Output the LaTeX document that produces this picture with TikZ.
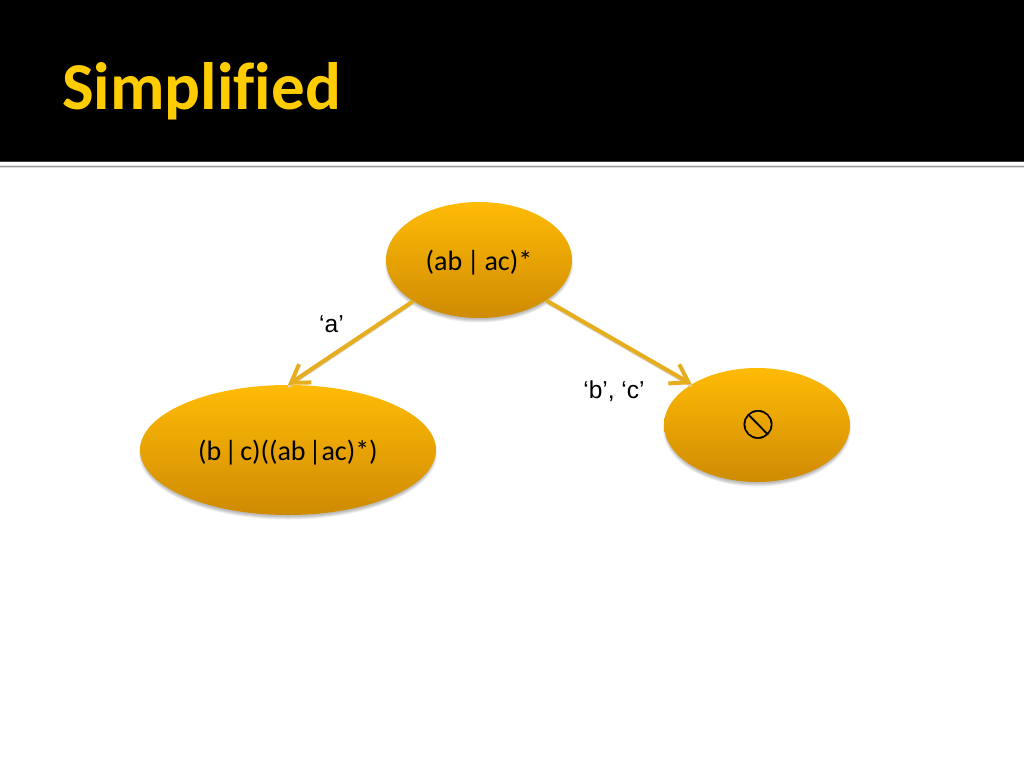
\documentclass[tikz,border=0pt]{standalone}
\usepackage{fontspec}
\setmainfont{Carlito}
\newfontfamily\labelfont{Liberation Sans}
\newfontfamily\symfont[FakeBold=1.6]{Noto Emoji}
\usetikzlibrary{arrows.meta,shapes.geometric}
\definecolor{titlegold}{HTML}{FFCC00}
\definecolor{nodetop}{HTML}{FFBB05}
\definecolor{nodebot}{HTML}{CF8B03}
\definecolor{linegold}{HTML}{E6AE1E}
\definecolor{lineshadow}{HTML}{D8D0B8}
\tikzset{
  x=1pt,y=-1pt,
  statenode/.style={ellipse,inner sep=0pt,top color=nodetop,bottom color=nodebot,draw=none,
    font=\fontsize{28}{32}\selectfont,text=black,text depth=0pt},
  halo/.style={ellipse,inner sep=0pt,fill=black,fill opacity=0.07,draw=none},
  edgelabel/.style={font=\labelfont\fontsize{24.5}{28}\selectfont,text=black,inner sep=0pt},
  link/.style={draw=linegold,line width=4pt,-{Straight Barb[length=17pt,width=22pt,line width=4pt]}},
  linkshade/.style={draw=lineshadow,line width=2.5pt},
}
\begin{document}
\begin{tikzpicture}
\useasboundingbox (0,0) rectangle (1024,768);
\fill[white] (0,0) rectangle (1024,768);
\fill[black] (0,0) rectangle (1024,160.5);
\fill[black!75] (0,160.5) rectangle (1024,161.5);
\fill[black!10] (0,165) rectangle (1024,165.8);
\fill[black!40] (0,165.8) rectangle (1024,167.2);
\fill[black!12] (0,167.2) rectangle (1024,168.2);
\node[anchor=base west,inner sep=0pt,text=titlegold,font=\bfseries\fontsize{67}{72}\selectfont] (title) at (62,109) {Simplif\kern0pt ied};
% soft shadows, below the ellipses only
\foreach \g/\e in {0/-4,1/-2,2/0,3/2}{
  \node[halo,minimum width=186pt+\e pt,minimum height=116pt+\e pt] (hA\g) at (479,263.5) {};
  \node[halo,minimum width=296pt+\e pt,minimum height=130pt+\e pt] (hB\g) at (288,453.5) {};
  \node[halo,minimum width=186pt+\e pt,minimum height=114pt+\e pt] (hC\g) at (757,428.5) {};
}
\node[statenode,text height=20pt,minimum width=186pt,minimum height=116pt] (top) at (479,260) {(ab\,|\,ac)*};
\node[statenode,text height=20pt,minimum width=296pt,minimum height=130pt] (left) at (288,450) {(b\kern3pt|\kern3pt c)((ab\kern3pt|ac)*)};
\node[statenode,text height=18pt,minimum width=186pt,minimum height=114pt] (right) at (757,425) {\kern2pt\symfont\fontsize{28}{32}\selectfont 🚫};
\draw[linkshade,transform canvas={yshift=-2pt}] (top.212) -- (left.north);
\draw[linkshade,transform canvas={yshift=-2pt}] (top.329) -- (right.148);
\draw[link] (top.212) -- (left.north);
\draw[link] (top.329) -- (right.148);
\node[edgelabel] (la) at (331.5,324) {‘a’};
\node[edgelabel] (lb) at (614,391) {‘b’, ‘c’};
\end{tikzpicture}
\end{document}
